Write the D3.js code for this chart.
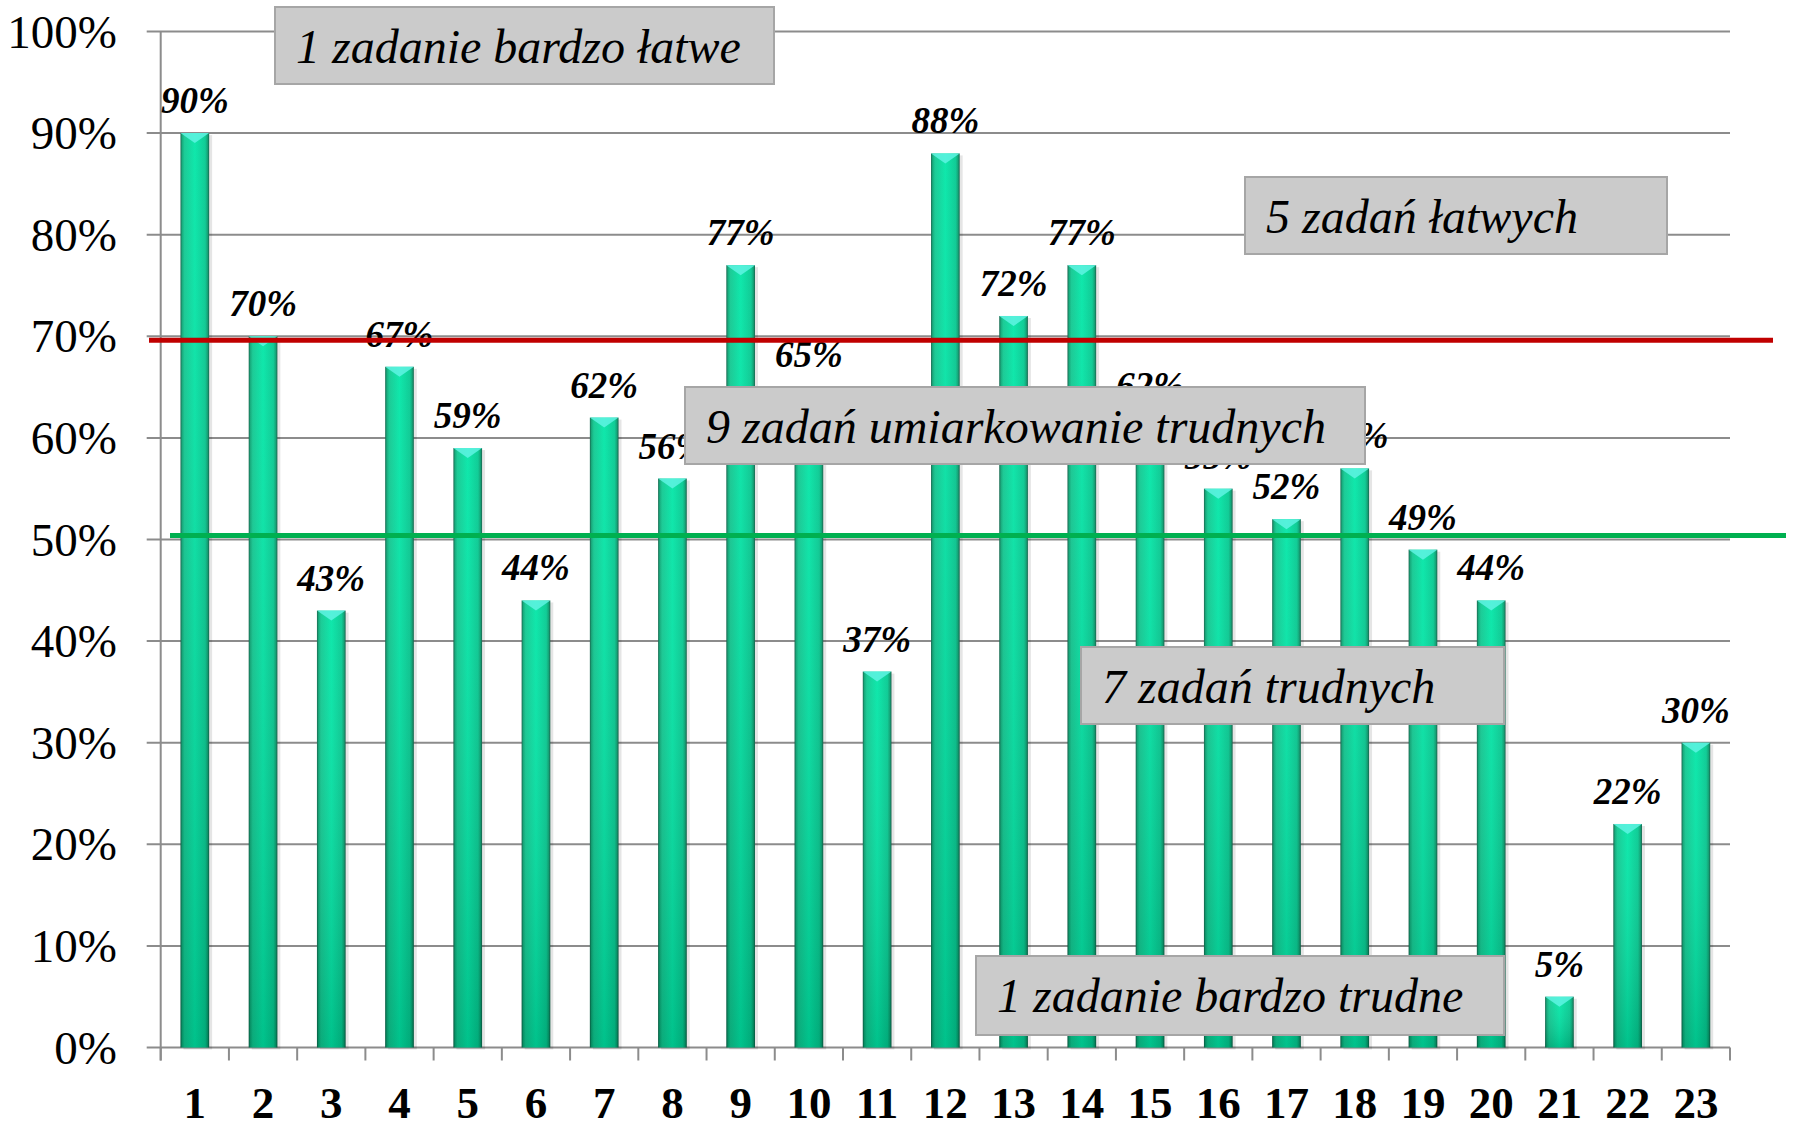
<!DOCTYPE html>
<html>
<head>
<meta charset="utf-8">
<script src="https://cdn.jsdelivr.net/npm/d3@7"></script>
<style>
  html, body { margin: 0; padding: 0; background: #fff; }
  svg { display: block; }
</style>
</head>
<body>
<svg id="svg" width="1799" height="1124"></svg>
<script>
// data
const tasks = d3.range(1, 24).map(String);
const scores = [90, 70, 43, 67, 59, 44, 62, 56, 77, 65, 37, 88, 72, 77, 62, 55, 52, 57, 49, 44, 5, 22, 30];
const yTicks = [0, 10, 20, 30, 40, 50, 60, 70, 80, 90, 100];
const thresholds = [69.6, 50.4];
const notes = ["1 zadanie bardzo łatwe", "5 zadań łatwych", "9 zadań umiarkowanie trudnych", "7 zadań trudnych", "1 zadanie bardzo trudne"];

window.onload = function () {
    let svg = d3.select('#svg');
    const left = 160.7, right = 1730, top = 31.5, bottom = 1047.5;
    const serif = "Liberation Serif";

    let x = d3.scaleBand().domain(tasks).range([left, right]).paddingInner(0.58).paddingOuter(0.29);
    let y = d3.scaleLinear().domain([0, 100]).range([bottom, top]);
    let step = x.step();

    // gradients
    let defs = svg.append("defs");
    let g1 = defs.append("linearGradient").attr("id", "barH").attr("x1", 0).attr("x2", 1).attr("y1", 0).attr("y2", 0);
    g1.append("stop").attr("offset", "0%").attr("stop-color", "#0a5e44");
    g1.append("stop").attr("offset", "6%").attr("stop-color", "#08a876");
    g1.append("stop").attr("offset", "14%").attr("stop-color", "#0ec890");
    g1.append("stop").attr("offset", "50%").attr("stop-color", "#00e6a6");
    g1.append("stop").attr("offset", "86%").attr("stop-color", "#02c990");
    g1.append("stop").attr("offset", "94%").attr("stop-color", "#04a070");
    g1.append("stop").attr("offset", "100%").attr("stop-color", "#0a5a42");
    let g2 = defs.append("linearGradient").attr("id", "barV").attr("x1", 0).attr("x2", 0).attr("y1", 0).attr("y2", 1);
    g2.append("stop").attr("offset", "0%").attr("stop-color", "#ffffff").attr("stop-opacity", 0.06);
    g2.append("stop").attr("offset", "100%").attr("stop-color", "#003322").attr("stop-opacity", 0.2);

    // grid
    svg.append("g").selectAll("line").data(yTicks).join("line")
        .attr("x1", left - 14).attr("x2", right)
        .attr("y1", d => y(d)).attr("y2", d => y(d))
        .attr("stroke", "#8c8c8c").attr("stroke-width", 2);

    svg.append("line").attr("x1", left).attr("x2", left).attr("y1", top).attr("y2", bottom + 13)
        .attr("stroke", "#8c8c8c").attr("stroke-width", 2);
    svg.append("g").selectAll("line").data(d3.range(tasks.length + 1)).join("line")
        .attr("x1", i => left + i * step).attr("x2", i => left + i * step)
        .attr("y1", bottom).attr("y2", bottom + 13)
        .attr("stroke", "#8c8c8c").attr("stroke-width", 2);

    svg.append("g").selectAll("text").data(yTicks).join("text")
        .attr("x", 117).attr("y", d => y(d) + 16)
        .attr("text-anchor", "end")
        .attr("font-family", serif).attr("font-size", 47).attr("fill", "#000")
        .text(d => d + "%");

    svg.append("g").selectAll("text").data(tasks).join("text")
        .attr("x", d => x(d) + x.bandwidth() / 2).attr("y", 1118)
        .attr("text-anchor", "middle")
        .attr("font-family", serif).attr("font-size", 45).attr("font-weight", 700).attr("fill", "#000")
        .text(d => d);

    // bars
    let bars = svg.append("g").selectAll("g").data(scores).join("g");
    bars.append("rect")
        .attr("x", (d, i) => x(tasks[i]) + 3).attr("y", d => y(d) + 2)
        .attr("width", x.bandwidth()).attr("height", d => bottom - y(d))
        .attr("fill", "#000").attr("opacity", 0.1);
    bars.append("rect")
        .attr("x", (d, i) => x(tasks[i])).attr("y", d => y(d))
        .attr("width", x.bandwidth()).attr("height", d => bottom - y(d))
        .attr("fill", "url(#barH)");
    bars.append("rect")
        .attr("x", (d, i) => x(tasks[i])).attr("y", d => y(d))
        .attr("width", x.bandwidth()).attr("height", d => bottom - y(d))
        .attr("fill", "url(#barV)");
    bars.append("path")
        .attr("d", (d, i) => {
            let x0 = x(tasks[i]), w = x.bandwidth(), t = y(d);
            return "M" + x0 + "," + t + "L" + (x0 + w) + "," + t + "L" + (x0 + w / 2) + "," + (t + 10) + "Z";
        })
        .attr("fill", "#5ff3e3").attr("opacity", 0.85);

    // value labels
    svg.append("g").selectAll("text").data(scores).join("text")
        .attr("x", (d, i) => x(tasks[i]) + x.bandwidth() / 2).attr("y", d => y(d) - 20)
        .attr("text-anchor", "middle")
        .attr("font-family", serif).attr("font-size", 37).attr("font-weight", 700).attr("font-style", "italic").attr("fill", "#000")
        .text(d => d + "%");

    // threshold lines
    const lineColors = ["#c00000", "#00b050"];
    const lineSpan = [[149, 1773], [170, 1786]];
    svg.append("g").selectAll("line").data(thresholds).join("line")
        .attr("x1", (d, i) => lineSpan[i][0]).attr("x2", (d, i) => lineSpan[i][1])
        .attr("y1", d => y(d)).attr("y2", d => y(d))
        .attr("stroke", (d, i) => lineColors[i]).attr("stroke-width", 5);

    // annotation boxes
    const boxPos = [
        { x: 275, y: 7, w: 499, h: 77 },
        { x: 1245, y: 177, w: 422, h: 77 },
        { x: 685, y: 387, w: 680, h: 77 },
        { x: 1081, y: 647, w: 423, h: 77 },
        { x: 976, y: 956, w: 528, h: 79 }
    ];
    let boxes = svg.append("g").selectAll("g").data(notes).join("g")
        .attr("transform", (d, i) => "translate(" + boxPos[i].x + "," + boxPos[i].y + ")");
    boxes.append("rect")
        .attr("width", (d, i) => boxPos[i].w).attr("height", (d, i) => boxPos[i].h)
        .attr("fill", "#cbcbcb").attr("stroke", "#a6a6a6").attr("stroke-width", 2);
    boxes.append("text")
        .attr("x", 21).attr("y", 56)
        .attr("font-family", serif).attr("font-size", 48).attr("font-style", "italic").attr("fill", "#000")
        .text(d => d);
};
</script>
</body>
</html>
